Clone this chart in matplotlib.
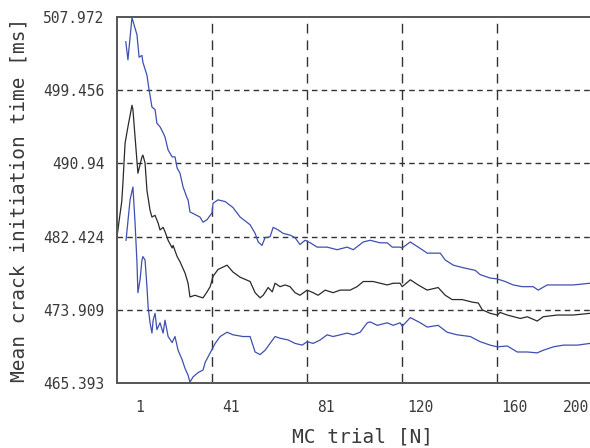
import matplotlib
matplotlib.use('Agg')
import matplotlib.pyplot as plt
import matplotlib.transforms as mtransforms

# MC trial number vs running mean and bounds [ms]
n_mean = [1, 2, 3, 3.5, 4.4, 5.6, 7.3, 7.7, 8.6, 9.8, 11.5, 11.9, 12.8, 13.6, 14.9, 15.7,
          17.0, 18.3, 19.1, 20.4, 21.2, 22.5, 24.2, 24.6, 26.3, 27.5, 29.6, 30.9, 31.7,
          33.8, 35.9, 37.2, 38.9, 40.2, 41.4, 43.5, 47.3, 49.8, 52.8, 57.0, 59.1, 61.2,
          62.5, 64.6, 66.3, 67.5, 69.6, 71.7, 73.8, 75.9, 78.0, 81.0, 83.5, 85.6, 88.6,
          91.9, 94.9, 99.1, 102.0, 104.6, 108.8, 111.7, 114.7, 117.2, 120.1, 121.0, 124.4,
          127.7, 131.5, 136.1, 139.1, 142.0, 146.2, 150.5, 153.0, 154.7, 158.0, 161.0,
          162.2, 165.2, 170.7, 173.6, 177.8, 180.3, 186.2, 193.0, 200]
mean = [482.4, 484.5, 486.5, 488.7, 493.3, 495.2, 497.7, 497.2, 494.0, 489.8, 491.7, 491.9,
        491.0, 487.8, 485.5, 484.7, 484.9, 484.0, 483.2, 483.5, 483.0, 482.0, 481.1, 481.4,
        480.1, 479.5, 478.2, 477.0, 475.4, 475.6, 475.4, 475.3, 476.0, 476.6, 477.8, 478.6,
        479.1, 478.3, 477.7, 477.2, 475.9, 475.3, 475.6, 476.5, 476.0, 477.0, 476.6, 476.8,
        476.6, 475.9, 475.6, 476.2, 475.9, 475.6, 476.2, 475.9, 476.2, 476.2, 476.6, 477.2,
        477.2, 477.0, 476.8, 477.0, 477.0, 476.6, 477.4, 476.8, 476.2, 476.5, 475.6, 475.1,
        475.1, 474.8, 474.7, 473.9, 473.5, 473.3, 473.6, 473.3, 472.9, 473.1, 472.6, 473.1,
        473.3, 473.3, 473.5]

n_upper = [4.7, 5.6, 7.3, 9.4, 10.3, 11.5, 11.9, 13.6, 14.5, 15.7, 17.0, 17.8, 19.1, 20.4,
           21.2, 22.5, 24.2, 25.4, 26.3, 27.5, 28.8, 30.5, 30.9, 31.7, 35.9, 37.2, 38.9,
           41.0, 41.4, 43.5, 46.5, 49.8, 52.8, 57.0, 59.1, 60.4, 62.0, 63.3, 65.4, 66.7,
           68.8, 70.9, 73.8, 75.9, 78.0, 80.1, 82.3, 85.2, 89.4, 93.6, 97.8, 100.4, 104.6,
           107.5, 111.7, 114.7, 116.8, 120.1, 121.0, 124.4, 129.4, 131.5, 137.0, 139.1,
           142.5, 146.7, 151.7, 153.8, 158.0, 161.0, 164.3, 167.7, 171.5, 176.1, 178.2,
           182.0, 186.2, 193.0, 200]
upper = [505.1, 503.0, 507.9, 505.9, 503.3, 503.5, 502.7, 501.2, 499.5, 497.5, 497.2, 495.6,
         495.2, 494.5, 494.0, 492.5, 491.7, 491.7, 490.4, 489.8, 488.2, 486.9, 486.7, 485.3,
         484.7, 484.1, 484.4, 485.2, 486.3, 486.7, 486.5, 485.8, 484.7, 483.8, 482.8, 481.8,
         481.4, 482.3, 482.4, 483.5, 483.2, 482.8, 482.6, 482.3, 481.5, 482.0, 481.7, 481.2,
         481.2, 480.9, 481.2, 480.9, 481.8, 482.0, 481.7, 481.7, 481.2, 481.2, 481.1, 481.8,
         480.9, 480.5, 480.5, 479.7, 479.1, 478.8, 478.5, 478.0, 477.6, 477.5, 477.2, 476.8,
         476.6, 476.6, 476.2, 476.8, 476.8, 476.8, 477.0]

n_lower = [4.8, 6.5, 7.7, 8.6, 9.4, 9.8, 10.7, 11.5, 11.9, 12.8, 13.6, 14.1, 14.9, 15.7,
           16.2, 17.0, 17.8, 19.1, 20.4, 21.2, 22.5, 24.2, 25.4, 26.7, 28.4, 29.6, 30.9,
           31.7, 33.0, 35.1, 37.2, 38.1, 40.2, 42.3, 44.4, 47.3, 49.8, 54.0, 57.0, 59.1,
           61.2, 63.3, 65.4, 67.5, 69.6, 73.0, 75.9, 78.9, 81.0, 83.5, 86.5, 89.4, 91.9,
           94.9, 97.8, 100.4, 103.3, 106.3, 107.5, 110.5, 114.7, 117.2, 120.1, 121.0, 124.4,
           128.6, 131.5, 136.1, 139.9, 144.1, 149.6, 153.8, 158.0, 161.0, 165.2, 169.4,
           173.6, 177.8, 180.3, 184.6, 188.8, 194.7, 200]
lower = [482.0, 486.7, 488.2, 484.0, 479.4, 475.9, 477.4, 479.7, 480.1, 479.7, 476.6, 474.2,
         472.4, 471.2, 472.7, 473.5, 471.6, 472.4, 471.2, 472.7, 470.8, 470.1, 470.8, 469.2,
         468.1, 467.1, 466.3, 465.5, 466.1, 466.6, 466.9, 467.8, 468.9, 470.0, 470.8, 471.3,
         471.0, 470.8, 470.8, 469.0, 468.7, 469.2, 470.0, 470.8, 470.6, 470.4, 470.0, 469.8,
         470.2, 470.0, 470.4, 471.0, 470.8, 471.0, 471.2, 471.0, 471.3, 472.4, 472.5, 472.1,
         472.4, 472.1, 472.4, 472.0, 473.0, 472.4, 471.9, 472.1, 471.3, 471.0, 470.8, 470.2,
         469.8, 469.6, 469.7, 469.0, 469.0, 468.9, 469.2, 469.6, 469.8, 469.8, 470.0]

x_ticks = [1, 41, 81, 121, 161, 200]
x_labels = ['1', '41', '81', '120', '160', '200']
y_ticks = [465.393, 473.909, 482.424, 490.94, 499.456, 507.972]
y_labels = ['465.393', '473.909', '482.424', '490.94', '499.456', '507.972']

mono = 'DejaVu Sans Mono'
fig = plt.figure(figsize=(5.9, 4.48), dpi=100)
ax = fig.add_axes([117 / 590, 65 / 448, 473 / 590, 366 / 448])

blue = '#3f4fb0'
ax.plot(n_upper, upper, c=blue, lw=0.9)
ax.plot(n_lower, lower, c=blue, lw=0.9)
ax.plot(n_mean, mean, c='#2a2a2a', lw=0.9)

ax.set_xlim(1, 200)
ax.set_ylim(465.393, 507.972)
ax.set_xticks(x_ticks)
ax.set_xticklabels(x_labels, fontfamily=mono, fontsize=10.5, color='#3a3a3a')
ax.set_yticks(y_ticks)
ax.set_yticklabels(y_labels, fontfamily=mono, fontsize=10.5, color='#3a3a3a')
ax.tick_params(length=0)
ax.tick_params(axis='y', pad=9)
ax.tick_params(axis='x', pad=12)

# labels sit a little right of their gridlines in the original
shifts = [23, 19, 19, 18, 17, -14]
for lab, dx in zip(ax.get_xticklabels(), shifts):
    lab.set_transform(lab.get_transform() + mtransforms.ScaledTranslation(dx / 100, 0, fig.dpi_scale_trans))

ax.grid(axis='y', color='#333333', lw=1.0, dashes=(4, 3))
ax.grid(axis='x', color='#333333', lw=1.0, dashes=(7, 5))
# hide gridlines that fall on the frame
for gl in ax.get_xgridlines()[::5]:
    gl.set_visible(False)
ax.get_ygridlines()[0].set_visible(False)
ax.get_ygridlines()[-1].set_visible(False)

for s in ['left', 'bottom', 'top']:
    ax.spines[s].set_color('#555555')
    ax.spines[s].set_linewidth(1.4)
ax.spines['right'].set_visible(False)

fig.text(363 / 590, 1 - 437 / 448, 'MC trial [N]', fontfamily=mono, fontsize=14,
         color='#3a3a3a', ha='center', va='center')
fig.text(19 / 590, 1 - 200 / 448, 'Mean crack initiation time [ms]', fontfamily=mono,
         fontsize=14, color='#3a3a3a', ha='center', va='center', rotation=90)

plt.savefig('out.png', dpi=100)
plt.close()
